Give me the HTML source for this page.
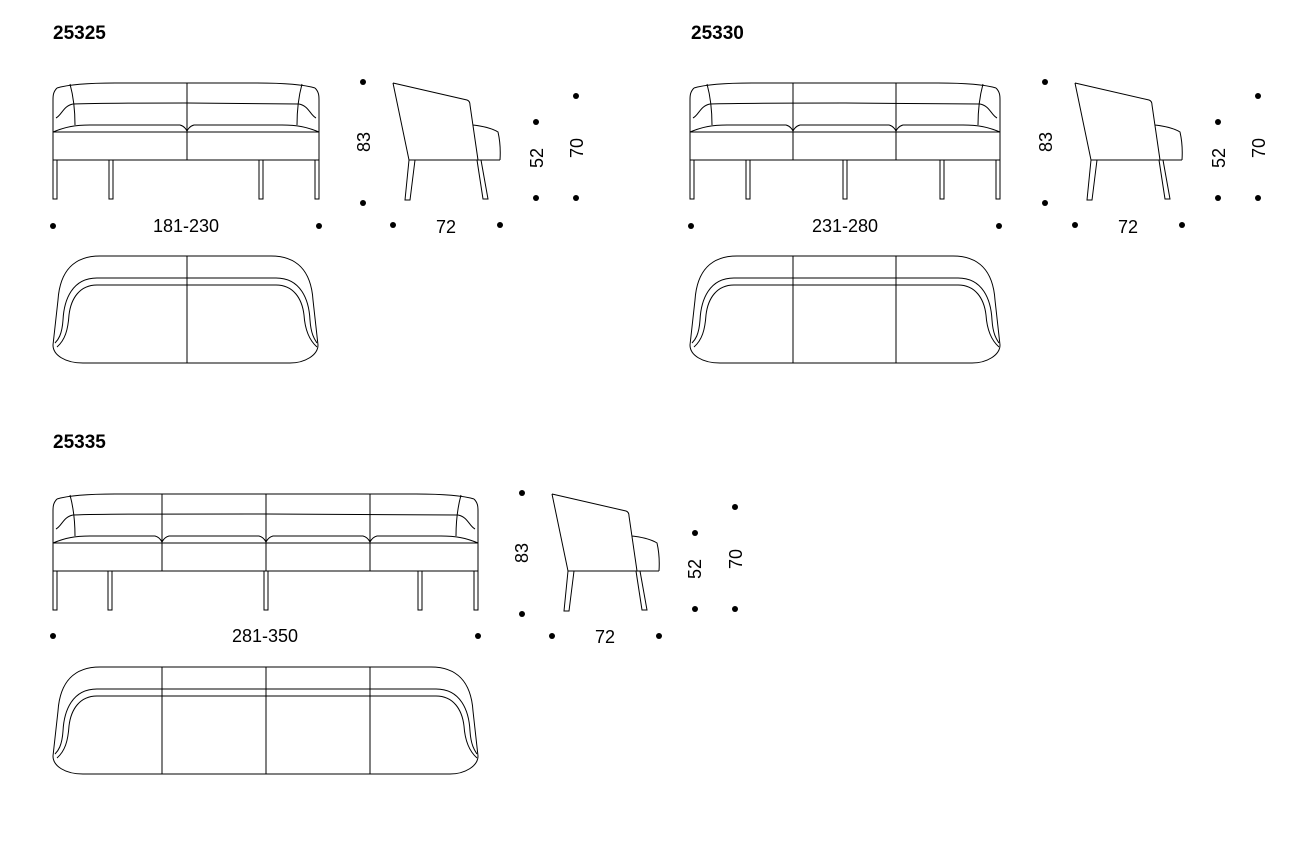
<!DOCTYPE html>
<html><head><meta charset="utf-8"><style>
html,body{margin:0;padding:0;background:#fff;}
svg{display:block;}
text{font-family:"Liberation Sans",sans-serif;fill:#000;}
.t{font-size:19px;font-weight:bold;font-family:"Liberation Sans Narrow","Liberation Sans",sans-serif;}
.d{font-size:18px;}
</style></head><body>
<svg width="1316" height="862" viewBox="0 0 1316 862" xmlns="http://www.w3.org/2000/svg">
<defs>
<g id="side">
  <g fill="none" stroke="#000" stroke-width="1">
    <path d="M393,83 L467,100 Q470,101 470,105 L478,160 M393,83 L409,160 L500,160 M473,125 Q490,127 498,132 Q501,145 500,160"/>
    <path d="M409,160 L405,200 L410,200 L415,160 M477,160 L483,199 L488,199 L481,160"/>
  </g>
  <g fill="#000">
    <circle cx="363" cy="82" r="3"/><circle cx="363" cy="203" r="3"/>
    <circle cx="393" cy="225" r="3"/><circle cx="500" cy="225" r="3"/>
    <circle cx="536" cy="122" r="3"/><circle cx="536" cy="198" r="3"/>
    <circle cx="576" cy="96" r="3"/><circle cx="576" cy="198" r="3"/>
  </g>
</g>
</defs>

<text class="t" x="53" y="39">25325</text>
<text class="t" x="691" y="39">25330</text>
<text class="t" x="53" y="448">25335</text>

<!-- Sofa 1 front -->
<g fill="none" stroke="#000" stroke-width="1">
  <path d="M57,88 C70,84 95,83 115,83 L257,83 C277,83 302,84 315,88"/>
  <path d="M57,88 C53,92 53,96 53,100 L53,160 M315,88 C319,92 319,96 319,100 L319,160"/>
  <path d="M70,84 C73,95 75,110 75,125 M302,84 C299,95 297,110 297,125"/>
  <path d="M56,118 C62,115 63,106 73,104 M316,118 C310,115 309,106 299,104"/>
  <path d="M73,104 C100,103 130,103 187,103 L299,104"/>
  <path d="M53,132 C65,127 75,125 90,125 L180,125 C184,126 186,129 187,131 C188,129 190,126 194,125 L282,125 C297,125 307,127 319,132"/>
  <path d="M53,132 L319,132 M53,160 L319,160 M187,83 L187,160"/>
  <path d="M53,160 V199 H57 V160 M109,160 V199 H113 V160 M259,160 V199 H263 V160 M315,160 V199 H319 V160"/>
</g>
<g fill="#000"><circle cx="53" cy="226" r="3"/><circle cx="319" cy="226" r="3"/></g>
<text class="d" x="186" y="232" text-anchor="middle">181-230</text>
<use href="#side"/>
<text class="d" transform="translate(370,142) rotate(-90)" text-anchor="middle">83</text>
<text class="d" x="446" y="233" text-anchor="middle">72</text>
<text class="d" transform="translate(543,158) rotate(-90)" text-anchor="middle">52</text>
<text class="d" transform="translate(583,148) rotate(-90)" text-anchor="middle">70</text>

<!-- Sofa 1 top -->
<g fill="none" stroke="#000" stroke-width="1">
  <path d="M53,345 L58,300 C60,270 75,256 100,256 L271,256 C296,256 311,270 313,300 L318,345 C318,355 305,363 290,363 L83,363 C65,363 53,355 53,345"/>
  <path d="M55,343 C58,340 62,335 63,320 C64,300 72,278 97,278 L276,278 C301,278 309,300 310,320 C311,335 315,340 317,343"/>
  <path d="M57,347 C65,340 68,330 69,315 C71,298 80,285 97,285 L276,285 C293,285 302,298 304,315 C305,330 309,340 317,347"/>
  <path d="M187,256 L187,363"/>
</g>

<!-- Sofa 2 front -->
<g fill="none" stroke="#000" stroke-width="1">
  <path d="M694,88 C707,84 732,83 752,83 L938,83 C958,83 983,84 996,88"/>
  <path d="M694,88 C690,92 690,96 690,100 L690,160 M996,88 C1000,92 1000,96 1000,100 L1000,160"/>
  <path d="M707,84 C710,95 712,110 712,125 M983,84 C980,95 978,110 978,125"/>
  <path d="M693,118 C699,115 700,106 710,104 M997,118 C991,115 990,106 980,104"/>
  <path d="M710,104 C740,103 770,103 845,103 L980,104"/>
  <path d="M690,132 C702,127 712,125 727,125 L786,125 C790,126 792,129 793,131 C794,129 796,126 800,125 L889,125 C893,126 895,129 896,131 C897,129 899,126 903,125 L963,125 C978,125 988,127 1000,132"/>
  <path d="M690,132 L1000,132 M690,160 L1000,160 M793,83 L793,160 M896,83 L896,160"/>
  <path d="M690,160 V199 H694 V160 M746,160 V199 H750 V160 M843,160 V199 H847 V160 M940,160 V199 H944 V160 M996,160 V199 H1000 V160"/>
</g>
<g fill="#000"><circle cx="691" cy="226" r="3"/><circle cx="999" cy="226" r="3"/></g>
<text class="d" x="845" y="232" text-anchor="middle">231-280</text>
<use href="#side" transform="translate(682,0)"/>
<text class="d" transform="translate(1052,142) rotate(-90)" text-anchor="middle">83</text>
<text class="d" x="1128" y="233" text-anchor="middle">72</text>
<text class="d" transform="translate(1225,158) rotate(-90)" text-anchor="middle">52</text>
<text class="d" transform="translate(1265,148) rotate(-90)" text-anchor="middle">70</text>

<!-- Sofa 2 top -->
<g fill="none" stroke="#000" stroke-width="1">
  <path d="M690,345 L695,300 C697,270 712,256 737,256 L953,256 C978,256 993,270 995,300 L1000,345 C1000,355 987,363 972,363 L720,363 C702,363 690,355 690,345"/>
  <path d="M692,343 C695,340 699,335 700,320 C701,300 709,278 734,278 L958,278 C983,278 991,300 992,320 C993,335 997,340 999,343"/>
  <path d="M694,347 C702,340 705,330 706,315 C708,298 717,285 734,285 L958,285 C975,285 984,298 986,315 C987,330 991,340 999,347"/>
  <path d="M793,256 L793,363 M896,256 L896,363"/>
</g>

<!-- Sofa 3 front -->
<g transform="translate(0,411)" fill="none" stroke="#000" stroke-width="1">
  <path d="M57,88 C70,84 95,83 115,83 L416,83 C436,83 461,84 474,88"/>
  <path d="M57,88 C53,92 53,96 53,100 L53,160 M474,88 C478,92 478,96 478,100 L478,160"/>
  <path d="M70,84 C73,95 75,110 75,125 M461,84 C458,95 456,110 456,125"/>
  <path d="M56,118 C62,115 63,106 73,104 M475,118 C469,115 468,106 458,104"/>
  <path d="M73,104 C100,103 130,103 266,103 L458,104"/>
  <path d="M53,132 C65,127 75,125 90,125 L155,125 C159,126 161,129 162,131 C163,129 165,126 169,125 L259,125 C263,126 265,129 266,131 C267,129 269,126 273,125 L363,125 C367,126 369,129 370,131 C371,129 373,126 377,125 L441,125 C456,125 466,127 478,132"/>
  <path d="M53,132 L478,132 M53,160 L478,160 M162,83 L162,160 M266,83 L266,160 M370,83 L370,160"/>
  <path d="M53,160 V199 H57 V160 M108,160 V199 H112 V160 M264,160 V199 H268 V160 M418,160 V199 H422 V160 M474,160 V199 H478 V160"/>
</g>
<g fill="#000"><circle cx="53" cy="636" r="3"/><circle cx="478" cy="636" r="3"/></g>
<text class="d" x="265" y="642" text-anchor="middle">281-350</text>
<use href="#side" transform="translate(159,411)"/>
<text class="d" transform="translate(528,553) rotate(-90)" text-anchor="middle">83</text>
<text class="d" x="605" y="643" text-anchor="middle">72</text>
<text class="d" transform="translate(701,569) rotate(-90)" text-anchor="middle">52</text>
<text class="d" transform="translate(742,559) rotate(-90)" text-anchor="middle">70</text>

<!-- Sofa 3 top -->
<g transform="translate(0,411)" fill="none" stroke="#000" stroke-width="1">
  <path d="M53,345 L58,300 C60,270 75,256 100,256 L431,256 C456,256 471,270 473,300 L478,345 C478,355 465,363 450,363 L83,363 C65,363 53,355 53,345"/>
  <path d="M55,343 C58,340 62,335 63,320 C64,300 72,278 97,278 L436,278 C461,278 469,300 470,320 C471,335 475,340 477,343"/>
  <path d="M57,347 C65,340 68,330 69,315 C71,298 80,285 97,285 L436,285 C453,285 462,298 464,315 C465,330 469,340 477,347"/>
  <path d="M162,256 L162,363 M266,256 L266,363 M370,256 L370,363"/>
</g>
</svg>
</body></html>
